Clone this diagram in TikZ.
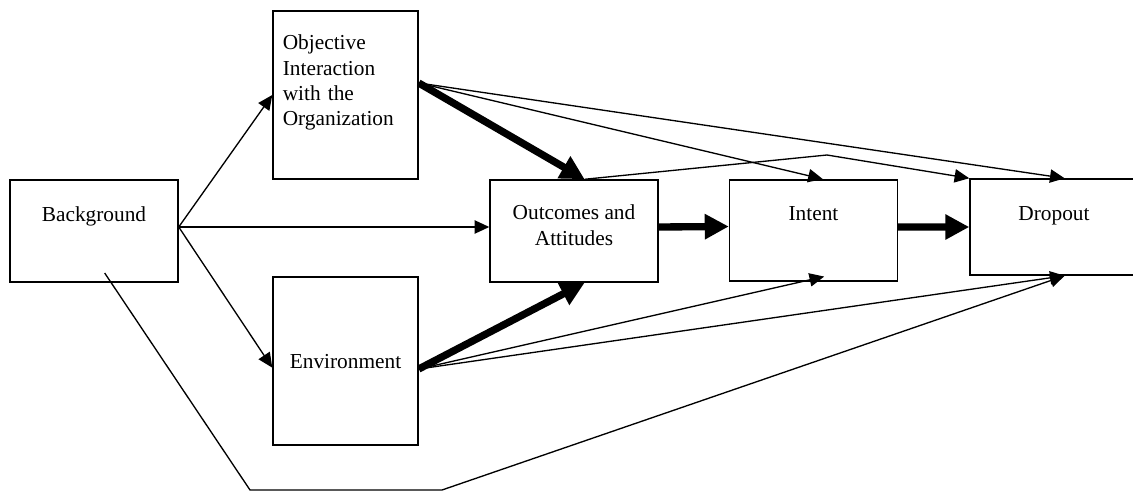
\documentclass[tikz,border=0pt]{standalone}
\usepackage{fontspec}
\setmainfont{Liberation Serif}
\usetikzlibrary{arrows.meta,calc}

\begin{document}
\begin{tikzpicture}[x=0.75pt,y=-0.75pt,
  box/.style={draw,line width=1.1pt,minimum width=126pt,minimum height=76.5pt,
              inner sep=2pt,font=\fontsize{16}{19}\selectfont,text height=11pt},
  tall/.style={box,minimum width=108.75pt,minimum height=126pt},
  link/.style={line width=1pt,-{Triangle[length=11pt,width=10pt]}},
  mainlink/.style={line width=5.5pt,-{Triangle[length=18pt,width=18pt]}}]
  \useasboundingbox (0,0) rectangle (1133,492);
  % boxes
  \node[box,text depth=26pt] (bg) at (94,231) {Background};
  \node[tall,text width=94pt,align=left,text depth=78.5pt] (obj) at (345.5,95)
       {Objective\\Interaction\\with the\\Organization};
  \node[tall,text depth=0pt] (env) at (345.5,361) {Environment};
  \node[box,align=center,text height=21pt,text depth=0pt] (out) at (574,231)
       {Outcomes and\\Attitudes};
  \node[box,minimum height=76pt,text depth=26.75pt] (int) at (813.5,230.5) {Intent};
  \node[box,minimum height=72pt,text depth=21.5pt] (drop) at (1054,227) {Dropout};
  % free bends
  \coordinate (peak) at (827,155);
  \coordinate (bend1) at (250,490);
  \coordinate (bend2) at (442,490);
  % from background
  \draw[link] ([yshift=3pt]bg.east) -- (obj.west);
  \draw[link] ([yshift=3pt]bg.east) -- ([yshift=3pt]out.west);
  \draw[link] ([yshift=3pt]bg.east) -- ([yshift=-5pt]env.west);
  \draw[link] ([xshift=8pt,yshift=-31.5pt]bg.center) -- (bend1) -- (bend2)
       -- ([xshift=8pt]drop.south);
  % from objective interaction
  \draw[mainlink] ([yshift=9pt]obj.east) -- ([xshift=8pt]out.north);
  \draw[link] ([yshift=9pt]obj.east) -- ([xshift=7pt]int.north);
  \draw[link] ([yshift=9pt]obj.east) -- ([xshift=8pt]drop.north);
  % from environment
  \draw[mainlink] ([yshift=-6pt]env.east) -- ([xshift=8pt]out.south);
  \draw[link] ([yshift=-6pt]env.east) -- ([xshift=8pt,yshift=4pt]int.south);
  \draw[link] ([yshift=-6pt]env.east) -- ([xshift=8pt]drop.south);
  % main chain
  \draw[link] ([xshift=8pt]out.north) -- (peak) -- (drop.north west);
  \draw[mainlink] ([yshift=3pt]out.east) -- ([yshift=3pt]int.west);
  \draw[mainlink] ([yshift=2.6pt]int.east) -- (drop.west);
\end{tikzpicture}
\end{document}
